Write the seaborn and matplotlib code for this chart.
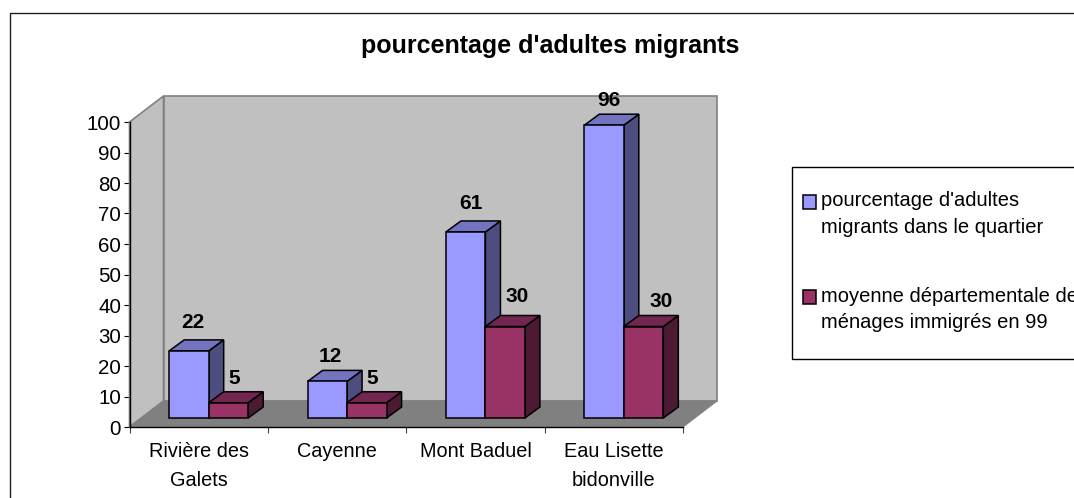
import matplotlib
matplotlib.use('Agg')
import matplotlib.pyplot as plt
import numpy as np
import pandas as pd
import seaborn as sns
from matplotlib.legend_handler import HandlerPatch
from matplotlib.patches import Polygon, Rectangle
from matplotlib.transforms import Affine2D, IdentityTransform

# values
quartiers = ['Rivière des\nGalets', 'Cayenne', 'Mont Baduel', 'Eau Lisette\nbidonville']
adultes_migrants = [22, 12, 61, 96]
moyenne_dep = [5, 5, 30, 30]
serie_1 = "pourcentage d'adultes\nmigrants dans le quartier"
serie_2 = 'moyenne départementale des\nménages immigrés en 99'
yticks = list(range(0, 101, 10))

# little hand nudges of the data labels (pixels)
nudge_1 = [(4, 23), (3, 19), (5, 23), (5, 19)]
nudge_2 = [(6, 19), (5, 19), (12, 25), (18, 20)]

df = pd.DataFrame({
    'quartier': quartiers * 2,
    'valeur': adultes_migrants + moyenne_dep,
    'serie': [serie_1] * 4 + [serie_2] * 4,
})

sns.set_theme(style='white')
plt.rcParams['font.family'] = ['Liberation Sans', 'DejaVu Sans']

W, H = 1074, 498
fig = plt.figure(figsize=(W / 100, H / 100), dpi=100)
ax = fig.add_axes([129.5 / W, 1 - 427 / H, 553.5 / W, 305 / H])

sns.barplot(data=df, x='quartier', y='valeur', hue='serie', ax=ax, width=0.571, gap=0,
            saturation=1, palette=['#9999FF', '#993366'], edgecolor='black', linewidth=1.1,
            zorder=5)
ax.set_xlim(-0.5, 3.5)
ax.set_ylim(0, 100)
ax.set_xlabel('')
ax.set_ylabel('')


def to_px(x, y):
    return ax.transData.transform((x, y))


def face(pts, color, edge, lw, z):
    ax.add_patch(Polygon(pts, closed=True, facecolor=color, edgecolor=edge, linewidth=lw,
                         transform=IdentityTransform(), clip_on=False, zorder=z))


# walls and floor of the 3d box
depth = np.array([34, 26])
a = to_px(-0.5, 0)
b = to_px(3.5, 0)
c = to_px(-0.5, 100)
face([a, a + depth, c + depth, c], '#C0C0C0', '#808080', 1.2, 1)
face([a + depth, b + depth, (b + depth) * [1, 0] + (c + depth) * [0, 1], c + depth],
     '#C0C0C0', '#808080', 1.2, 1)
face([a, b, b + depth, a + depth], '#808080', '#808080', 0.8, 2)

# the bars: shift the seaborn front faces back a bit, add top and side faces
shift = np.array([10, 9])
bar_depth = np.array([15, 11])
side_cols = ['#4D4D80', '#4D1A33']
top_cols = ['#7373BF', '#732650']
nudges = [nudge_1, nudge_2]
move = Affine2D().translate(*shift)

for i in range(len(quartiers)):
    for s, cont in enumerate(ax.containers):
        bar = cont[i]
        z = 5 + i * 3 + s * 3
        x0, x1 = bar.get_x(), bar.get_x() + bar.get_width()
        h = bar.get_height()
        br = to_px(x1, 0) + shift
        tl = to_px(x0, h) + shift
        tr = to_px(x1, h) + shift
        face([br, br + bar_depth, tr + bar_depth, tr], side_cols[s], 'black', 1.1, z)
        face([tl, tr, tr + bar_depth, tl + bar_depth], top_cols[s], 'black', 1.1, z)
        bar.set_transform(ax.transData + move)
        bar.set_clip_on(False)
        bar.set_zorder(z + 1)
        dx, dy = nudges[s][i]
        ax.annotate(f'{h:.0f}', xy=(tl + tr) / 2, xycoords='figure pixels',
                    xytext=(dx, dy), textcoords='offset pixels',
                    ha='center', va='baseline', fontsize=15, fontweight='bold',
                    color='black', zorder=60)

# axes cosmetics
sns.despine(ax=ax, top=True, right=True)
for sp in ['left', 'bottom']:
    ax.spines[sp].set_color('black')
    ax.spines[sp].set_linewidth(1.0)
    ax.spines[sp].set_zorder(3)
ax.set_yticks(yticks)
ax.tick_params(axis='y', left=True, length=4.5, width=0.8, color='black', pad=1.5,
               labelsize=14.8, labelcolor='black')
ax.set_xticks(np.arange(-0.5, 4), minor=True)
ax.tick_params(axis='x', which='minor', bottom=True, length=4.5, width=0.8, color='#404040')
ax.tick_params(axis='x', which='major', bottom=False, pad=5, labelsize=14.3, labelcolor='black')
for lab in ax.get_xticklabels():
    lab.set_linespacing(1.66)


# in the original the legend key sits level with the first line of its label
class FirstLineKey(HandlerPatch):
    def _create_patch(self, legend, orig_handle, xdescent, ydescent, width, height, fontsize):
        return Rectangle((-xdescent, -ydescent + 9.4), width, height)


# legend runs past the right of the picture, as in the original
sns.move_legend(ax, loc='upper left', bbox_to_anchor=(802.5 / W, 1 - 191.5 / H),
                bbox_transform=fig.transFigure, title=None, fontsize=14.5, frameon=False,
                borderaxespad=0, borderpad=0, labelspacing=2.47, handlelength=0.69,
                handleheight=0.69, handletextpad=0.25, handler_map={Rectangle: FirstLineKey()})
ax.get_legend().set_zorder(70)
for t in ax.get_legend().get_texts():
    t.set_linespacing(1.5)
    t.set_color('black')
fig.add_artist(Rectangle((791.7 / W, 1 - 359.3 / H), 0.5, 192 / H, transform=fig.transFigure,
                         fill=False, edgecolor='black', linewidth=1.0))

fig.text(550 / W, 1 - 53 / H, "pourcentage d'adultes migrants", ha='center', va='baseline',
         fontsize=18, fontweight='bold', color='black')

# outer chart frame, cut by the picture on the right and at the bottom
fig.add_artist(Rectangle((9.5 / W, -0.1), 1.1, 1.1 - 13.5 / H, transform=fig.transFigure,
                         fill=False, edgecolor='#202020', linewidth=1.0))

fig.savefig('out.png', dpi=100)
